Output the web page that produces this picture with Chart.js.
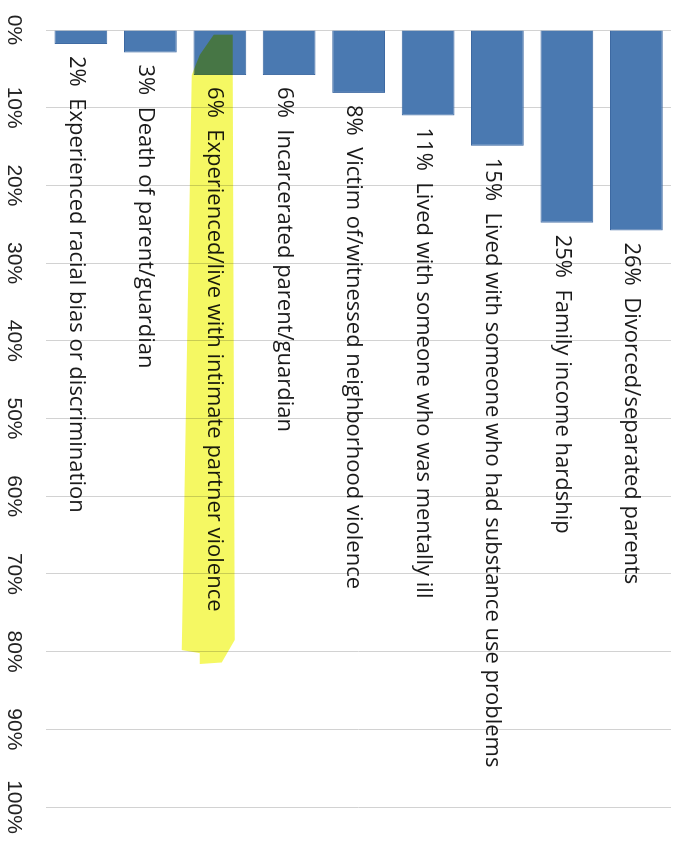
<!DOCTYPE html>
<html lang="en">
<head>
  <meta charset="UTF-8" />
  <title>Adverse childhood experiences</title>
  <script src="https://cdn.jsdelivr.net/npm/chart.js"></script>
  <style>
    html, body { margin: 0; padding: 0; background: #fff; overflow: hidden; }
    /* the chart is drawn as a horizontal bar chart, then turned a quarter turn clockwise */
    #wrap {
      position: absolute;
      left: 0; top: 0;
      width: 854px; height: 676px;
      transform-origin: 0 0;
      transform: translate(676px, 0) rotate(90deg);
    }
  </style>
</head>
<body>
  <div id="wrap">
    <canvas id="grafico" width="854" height="676"></canvas>
  </div>

  <script>
    // categories, top to bottom of the unrotated chart
    const categorias = [
      "Divorced/separated parents",
      "Family income hardship",
      "Lived with someone who had substance use problems",
      "Lived with someone who was mentally ill",
      "Victim of/witnessed neighborhood violence",
      "Incarcerated parent/guardian",
      "Experienced/live with intimate partner violence",
      "Death of parent/guardian",
      "Experienced racial bias or discrimination"
    ];
    const valores = [25.8, 24.8, 14.9, 11.0, 8.1, 5.8, 5.8, 2.9, 1.8];
    const rotulos = [26, 25, 15, 11, 8, 6, 6, 3, 2];
    const ticksPct = [0, 10, 20, 30, 40, 50, 60, 70, 80, 90, 100];
    const destaque = "Experienced/live with intimate partner violence";

    // value labels written just past the end of each bar
    const rotuloPlugin = {
      id: 'rotulos',
      afterDatasetsDraw(chart) {
        const ctx = chart.ctx;
        const meta = chart.getDatasetMeta(0);
        ctx.save();
        ctx.font = '22px "Open Sans"';
        ctx.fillStyle = '#1a1a1a';
        ctx.textAlign = 'left';
        ctx.textBaseline = 'middle';
        meta.data.forEach((bar, i) => {
          ctx.fillText(rotulos[i] + '%  ' + categorias[i], bar.x + 12, bar.y + 5);
        });
        ctx.restore();
      }
    };

    // yellow highlighter stroke over one category
    const marcaTexto = {
      id: 'marcaTexto',
      afterDraw(chart) {
        const i = categorias.indexOf(destaque);
        const bar = chart.getDatasetMeta(0).data[i];
        const xs = chart.scales.x;
        // [value %, offset across the bar in px]
        const pts = [
          [0.6, 6], [0.6, -13], [5.8, -13], [78.5, -15], [81.4, -2],
          [81.6, 20], [80.2, 20], [79.8, 38], [5.8, 28], [3.2, 20]
        ];
        const ctx = chart.ctx;
        ctx.save();
        ctx.globalCompositeOperation = 'multiply';
        ctx.fillStyle = 'rgba(242, 246, 60, 0.8)';
        ctx.beginPath();
        pts.forEach(([v, d], k) => {
          const px = xs.getPixelForValue(v);
          const py = bar.y + d;
          if (k === 0) ctx.moveTo(px, py); else ctx.lineTo(px, py);
        });
        ctx.closePath();
        ctx.fill();
        ctx.restore();
      }
    };

    const ctx = document.getElementById('grafico').getContext('2d');
    new Chart(ctx, {
      type: 'bar',
      data: {
        labels: categorias,
        datasets: [{
          data: valores,
          backgroundColor: '#4a79b1',
          borderColor: '#3d69a2',
          borderWidth: 1,
          barPercentage: 0.76,
          categoryPercentage: 1.0
        }]
      },
      options: {
        indexAxis: 'y',
        responsive: false,
        animation: false,
        layout: { padding: { left: 30, right: 47, top: 5, bottom: 1 } },
        plugins: {
          legend: { display: false },
          tooltip: { enabled: false }
        },
        scales: {
          x: {
            min: 0,
            max: 100,
            afterBuildTicks: (axis) => { axis.ticks = ticksPct.map(v => ({ value: v })); },
            grid: { color: '#d2d2d2', lineWidth: 1, drawTicks: true, tickLength: 20, tickColor: 'rgba(0,0,0,0)' },
            border: { display: false },
            ticks: {
              padding: 0,
              color: '#222',
              font: { family: '"Liberation Sans", Arial', size: 21 },
              callback: (v) => v + '%'
            }
          },
          y: {
            display: false
          }
        }
      },
      plugins: [rotuloPlugin, marcaTexto]
    });
  </script>
</body>
</html>
